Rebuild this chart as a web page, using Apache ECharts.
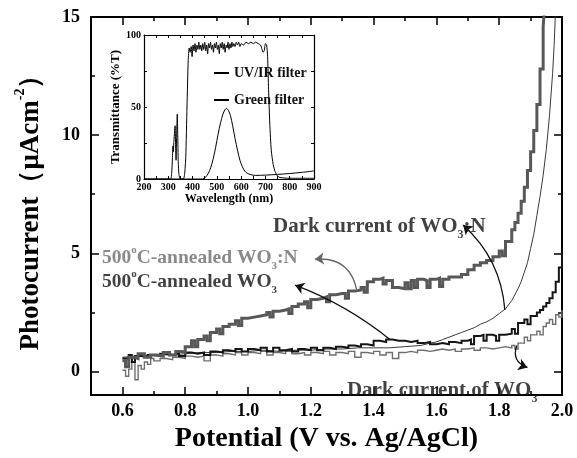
<!DOCTYPE html>
<html><head><meta charset="utf-8">
<script src="https://cdn.jsdelivr.net/npm/echarts@6/dist/echarts.min.js"></script>
<style>html,body{margin:0;padding:0;background:#fff}#c{width:577px;height:458px}</style>
</head><body><div id="c"></div>
<script>
// ---- data (potential V, current uA/cm2) ----
var wo3nPhoto = [[0.60,0.45],[0.61,0.2],[0.62,0.6],[0.64,0.55],[0.65,0.75],[0.67,0.6],[0.69,0.7],[0.71,0.65],[0.73,0.8],[0.75,0.7],[0.77,0.85],[0.79,0.8],[0.80,1.05],[0.82,1.3],[0.83,1.05],[0.84,1.35],[0.86,1.5],[0.87,1.3],[0.88,1.65],[0.90,1.8],[0.91,1.6],[0.92,1.9],[0.94,2.0],[0.96,2.15],[0.97,1.95],[0.98,2.25],[1.00,2.3],[1.02,2.35],[1.04,2.4],[1.06,2.5],[1.07,2.3],[1.08,2.55],[1.10,2.6],[1.12,2.65],[1.13,2.45],[1.14,2.75],[1.16,2.85],[1.18,2.95],[1.19,2.7],[1.20,3.05],[1.22,3.1],[1.24,3.15],[1.25,2.95],[1.26,3.25],[1.28,3.3],[1.30,3.3],[1.31,3.1],[1.32,3.4],[1.34,3.45],[1.36,3.55],[1.37,3.35],[1.38,3.8],[1.40,3.9],[1.42,3.95],[1.43,3.7],[1.44,3.85],[1.46,3.55],[1.48,3.5],[1.50,3.75],[1.51,3.5],[1.52,3.85],[1.53,3.55],[1.54,3.9],[1.56,3.85],[1.57,3.55],[1.58,3.9],[1.60,3.95],[1.61,3.6],[1.62,3.9],[1.64,4.0],[1.66,4.0],[1.68,4.1],[1.70,4.3],[1.72,4.5],[1.74,4.6],[1.76,4.7],[1.78,4.85],[1.80,5.1],[1.81,4.9],[1.82,5.5],[1.84,6.0],[1.85,6.3],[1.86,6.7],[1.87,7.2],[1.88,7.8],[1.89,8.5],[1.90,9.3],[1.91,10.2],[1.92,11.3],[1.93,12.8],[1.94,14.6],[1.945,15.5]];
var wo3Photo = [[0.60,0.55],[0.62,0.7],[0.63,0.4],[0.64,0.65],[0.66,0.6],[0.68,0.7],[0.70,0.65],[0.72,0.75],[0.74,0.7],[0.76,0.75],[0.78,0.65],[0.80,0.8],[0.82,0.75],[0.84,0.8],[0.86,0.7],[0.88,0.85],[0.90,0.8],[0.92,0.9],[0.94,0.85],[0.96,0.95],[0.98,0.85],[1.00,0.95],[1.02,0.9],[1.04,1.0],[1.06,0.85],[1.08,1.0],[1.10,0.9],[1.12,0.95],[1.14,0.85],[1.16,0.95],[1.18,0.9],[1.20,1.0],[1.22,0.9],[1.24,1.0],[1.26,0.95],[1.28,1.05],[1.30,1.0],[1.32,1.1],[1.34,1.05],[1.36,1.15],[1.38,1.1],[1.40,1.3],[1.42,1.25],[1.44,1.35],[1.46,1.3],[1.48,1.3],[1.50,1.25],[1.52,1.3],[1.54,1.2],[1.56,1.25],[1.58,1.15],[1.60,1.2],[1.62,1.15],[1.64,1.25],[1.66,1.2],[1.68,1.3],[1.70,1.35],[1.71,1.15],[1.72,1.5],[1.74,1.55],[1.75,1.3],[1.76,1.55],[1.78,1.5],[1.79,1.3],[1.80,1.55],[1.82,1.6],[1.84,1.8],[1.85,1.6],[1.86,2.05],[1.88,2.2],[1.89,2.0],[1.90,2.35],[1.92,2.5],[1.93,2.6],[1.94,2.75],[1.95,2.9],[1.96,3.1],[1.97,3.35],[1.98,3.8],[1.99,4.4],[2.00,5.0]];
var wo3nDark = [[0.60,0.6],[0.65,0.65],[0.70,0.7],[0.75,0.7],[0.80,0.75],[0.85,0.8],[0.90,0.8],[0.95,0.85],[1.00,0.85],[1.05,0.9],[1.10,0.85],[1.15,0.9],[1.20,0.9],[1.25,0.95],[1.30,0.95],[1.35,1.0],[1.40,1.0],[1.45,1.0],[1.50,1.05],[1.55,1.1],[1.58,1.2],[1.60,1.25],[1.62,1.35],[1.64,1.45],[1.66,1.55],[1.68,1.65],[1.70,1.75],[1.72,1.85],[1.74,2.0],[1.76,2.1],[1.78,2.25],[1.80,2.45],[1.82,2.65],[1.84,3.0],[1.86,3.5],[1.87,3.8],[1.88,4.2],[1.89,4.6],[1.90,5.2],[1.91,5.8],[1.92,6.6],[1.93,7.4],[1.94,8.3],[1.95,9.4],[1.96,10.8],[1.97,12.6],[1.975,13.8],[1.98,15.5]];
var wo3Dark = [[0.60,0.05],[0.61,-0.2],[0.62,0.1],[0.63,0.55],[0.64,-0.35],[0.65,0.25],[0.66,0.1],[0.67,0.4],[0.68,0.3],[0.69,0.55],[0.70,0.45],[0.72,0.55],[0.74,0.5],[0.76,0.6],[0.78,0.55],[0.80,0.65],[0.82,0.6],[0.84,0.65],[0.86,0.45],[0.88,0.7],[0.90,0.65],[0.92,0.75],[0.94,0.7],[0.96,0.8],[0.98,0.7],[1.00,0.8],[1.02,0.75],[1.04,0.85],[1.06,0.7],[1.08,0.8],[1.10,0.75],[1.12,0.85],[1.14,0.75],[1.16,0.8],[1.18,0.7],[1.20,0.8],[1.22,0.75],[1.24,0.85],[1.26,0.7],[1.28,0.8],[1.30,0.75],[1.32,0.85],[1.34,0.6],[1.36,0.8],[1.38,0.75],[1.40,0.85],[1.42,0.7],[1.44,0.8],[1.46,0.55],[1.48,0.8],[1.50,0.85],[1.52,0.8],[1.54,0.9],[1.56,0.85],[1.58,0.9],[1.60,0.95],[1.62,0.9],[1.64,0.95],[1.66,0.85],[1.68,0.95],[1.70,1.0],[1.72,0.9],[1.74,1.0],[1.76,0.95],[1.78,1.0],[1.80,1.05],[1.82,1.0],[1.84,1.1],[1.85,0.95],[1.86,1.2],[1.88,1.45],[1.89,1.3],[1.90,1.55],[1.92,1.7],[1.93,1.55],[1.94,1.9],[1.95,2.05],[1.96,2.2],[1.97,2.0],[1.98,2.4],[1.99,2.3],[2.00,2.6]];

// inset: wavelength nm, transmittance %
var uvirFilter = [[200,0],[300,0],[310,0],[314,4],[317,14],[319,23],[321,19],[323,26],[326,33],[328,37],[330,24],[332,13],[334,28],[337,45],[339,30],[341,12],[344,3],[350,0],[362,0],[367,3],[372,15],[377,50],[382,82],[386,91],[390,88],[394,92],[398,85],[402,93],[406,89],[410,94],[414,88],[418,93],[422,90],[426,95],[430,90],[434,93],[438,89],[442,94],[446,90],[450,95],[454,89],[458,93],[462,87],[466,94],[470,91],[474,95],[478,90],[482,93],[486,88],[490,94],[494,91],[498,95],[502,90],[506,93],[510,87],[514,94],[518,91],[522,95],[526,90],[530,94],[534,88],[538,93],[542,91],[546,95],[550,90],[554,94],[558,91],[562,95],[566,92],[570,94],[575,92],[580,95],[585,93],[590,95],[595,92],[600,94],[610,93],[620,95],[630,94],[640,95],[650,94],[660,95],[670,94],[680,93],[686,90],[690,88],[695,89],[700,94],[705,93],[709,85],[713,62],[718,38],[724,20],[732,10],[740,5],[750,2],[760,1],[800,0.5],[900,0.5]];
var greenFilter = [[200,0],[440,0],[452,1],[465,4],[475,8],[485,14],[495,22],[505,31],[515,39],[525,45],[533,48],[540,49],[548,47.5],[556,44],[565,37],[575,28],[585,20],[595,13],[605,8.5],[615,5.5],[625,4],[640,3],[660,2.5],[700,2.7],[750,3.2],[800,3.8],[850,4.6],[900,5.6]];

var xMajor = [0.6,0.8,1.0,1.2,1.4,1.6,1.8,2.0];
var xMinor = [0.5,0.7,0.9,1.1,1.3,1.5,1.7,1.9];
var yMajor = [0,5,10,15];
var yMinor = [2.5,7.5,12.5];
var inXTicks = [200,250,300,350,400,450,500,550,600,650,700,750,800,850,900];
var inXLabels = [200,300,400,500,600,700,800,900];
var inYTicks = [0,25,50,75,100];
var inYLabels = [0,50,100];

var FF = "Liberation Serif";
var chart = echarts.init(document.getElementById('c'));

function ax(pos, grid, min, max, opts) {
  var o = {type:'value', gridIndex:grid, position:pos, min:min, max:max, splitLine:{show:false},
    axisLine:{show:false, onZero:false, lineStyle:{color:'#000', width:2}},
    axisTick:{show:false}, axisLabel:{show:false}};
  for (var k in opts) o[k] = opts[k];
  return o;
}
function tick(vals, len, w) { return {show:true, inside:true, length:len, customValues:vals, lineStyle:{color:'#000', width:w}}; }
function lbl(size, margin, vals, digits) {
  return {show:true, margin:margin, customValues:vals,
    formatter:function(v){ return '{b|' + (digits ? v.toFixed(digits) : String(v)) + '}'; },
    rich:{b:{fontFamily:FF, fontWeight:'bold', fontSize:size, color:'#000'}}};
}

var xAxes = [
  ax('bottom',0,0.5,2.0,{axisLine:{show:true,onZero:false,lineStyle:{color:'#000',width:2}}, axisTick:tick(xMajor,8,1.5),
     axisLabel:lbl(18,7,xMajor,1),
     name:'Potential (V vs. Ag/AgCl)', nameLocation:'middle', nameGap:28,
     nameTextStyle:{fontFamily:FF, fontWeight:'bold', fontSize:28, color:'#000'}}),
  ax('bottom',0,0.5,2.0,{axisTick:tick(xMinor,4,1.5)}),
  ax('top',0,0.5,2.0,{axisLine:{show:true,onZero:false,lineStyle:{color:'#000',width:2}}, axisTick:tick(xMajor,8,1.5)}),
  ax('top',0,0.5,2.0,{axisTick:tick(xMinor,4,1.5)}),
  ax('bottom',1,200,900,{axisLine:{show:true,onZero:false,lineStyle:{color:'#000',width:1.2}}, axisTick:tick(inXTicks,3,1),
     axisLabel:lbl(10,3,inXLabels,0),
     name:'Wavelength (nm)', nameLocation:'middle', nameGap:13,
     nameTextStyle:{fontFamily:FF, fontWeight:'bold', fontSize:12, color:'#000'}}),
  ax('top',1,200,900,{axisLine:{show:true,onZero:false,lineStyle:{color:'#000',width:1.2}}, axisTick:tick(inXTicks,3,1)})
];
var yAxes = [
  ax('left',0,-1,15,{axisLine:{show:true,onZero:false,lineStyle:{color:'#000',width:2}}, axisTick:tick(yMajor,8,1.5),
     axisLabel:lbl(18,11,yMajor,0),
     name:'{t|Photocurrent（μAcm}{s|-2}{t|）}', nameLocation:'middle', nameGap:46, nameRotate:90,
     nameTextStyle:{rich:{t:{fontFamily:FF, fontWeight:'bold', fontSize:27, color:'#000', lineHeight:32, verticalAlign:'bottom'},
                          s:{fontFamily:FF, fontWeight:'bold', fontSize:14, color:'#000', lineHeight:32, verticalAlign:'top'}}}}),
  ax('left',0,-1,15,{axisTick:tick(yMinor,4,1.5)}),
  ax('right',0,-1,15,{axisLine:{show:true,onZero:false,lineStyle:{color:'#000',width:2}}, axisTick:tick(yMajor,8,1.5)}),
  ax('right',0,-1,15,{axisTick:tick(yMinor,4,1.5)}),
  ax('left',1,0,100,{axisLine:{show:true,onZero:false,lineStyle:{color:'#000',width:1.2}}, axisTick:tick(inYTicks,3,1),
     axisLabel:lbl(10,3,inYLabels,0),
     name:'Transmittance (%T)', nameLocation:'middle', nameGap:20, nameRotate:90,
     nameTextStyle:{fontFamily:FF, fontWeight:'bold', fontSize:13, color:'#000'}}),
  ax('right',1,0,100,{axisLine:{show:true,onZero:false,lineStyle:{color:'#000',width:1.2}}, axisTick:tick(inYTicks,3,1)})
];

function lineS(name, data, color, width, step) {
  return {name:name, type:'line', xAxisIndex:0, yAxisIndex:0, data:data, showSymbol:false, symbol:'none',
    step:step, lineStyle:{color:color, width:width, join:'miter'}, itemStyle:{color:color}, clip:true, silent:true, z:3};
}

var richBase = function(size, color){
  return {n:{fontFamily:FF, fontWeight:'bold', fontSize:size, color:color, lineHeight:size+8, verticalAlign:'middle'},
          sup:{fontFamily:FF, fontWeight:'bold', fontSize:Math.round(size*0.55), color:color, lineHeight:size+8, verticalAlign:'top'},
          sub:{fontFamily:FF, fontWeight:'bold', fontSize:Math.round(size*0.55), color:color, lineHeight:size+8, verticalAlign:'bottom'}};
};
// annotation anchors in data coordinates
var notes = [
  {pos:[0.535,4.8], text:'{n|500}{sup|o}{n|C-annealed WO}{sub|3}{n|:N}', size:19.5, color:'#6b6b6b'},
  {pos:[0.535,3.78], text:'{n|500}{sup|o}{n|C-annealed WO}{sub|3}', size:19.5, color:'#111'},
  {pos:[1.08,6.15], text:'{n|Dark current of WO}{sub|3}{n|:N}', size:21, color:'#111'},
  {pos:[1.315,-0.8], text:'{n|Dark current of WO}{sub|3}', size:21, color:'#111'}
];
var arrows = [
  {coords:[[1.347,3.4],[1.213,4.75]], color:'#666', curve:-0.45},
  {coords:[[1.452,1.35],[1.15,3.65]], color:'#111', curve:-0.08},
  {coords:[[1.818,2.6],[1.685,6.2]], color:'#111', curve:-0.2},
  {coords:[[1.856,1.1],[1.89,0.17]], color:'#111', curve:-0.5}
];

var series = [
  lineS('dark WO3', wo3Dark, '#6e6e6e', 1.4, 'end'),
  lineS('dark WO3:N', wo3nDark, '#3a3a3a', 1, false),
  lineS('WO3', wo3Photo, '#151515', 2, 'end'),
  lineS('WO3:N', wo3nPhoto, '#585858', 3, 'end'),
  {name:'UV/IR filter', type:'line', xAxisIndex:4, yAxisIndex:4, data:uvirFilter, showSymbol:false, symbol:'none',
   smooth:0.2, lineStyle:{color:'#000', width:1}, itemStyle:{color:'#000'}, silent:true},
  {name:'Green filter', type:'line', xAxisIndex:4, yAxisIndex:4, data:greenFilter, showSymbol:false, symbol:'none',
   smooth:0.3, lineStyle:{color:'#000', width:1}, itemStyle:{color:'#000'}, silent:true}
];
arrows.forEach(function(a){
  series.push({type:'lines', coordinateSystem:'cartesian2d', xAxisIndex:0, yAxisIndex:0, silent:true, z:4,
    symbol:['none','arrow'], symbolSize:[0,9],
    lineStyle:{color:a.color, width:1.3, curveness:a.curve, opacity:1},
    data:[{coords:a.coords}]});
});
notes.forEach(function(n){
  series.push({type:'scatter', xAxisIndex:0, yAxisIndex:0, symbolSize:0, silent:true, z:5,
    data:[n.pos], label:{show:true, position:'right', distance:0, formatter:n.text, rich:richBase(n.size, n.color)}});
});

chart.setOption({
  animation:false,
  backgroundColor:'#fff',
  textStyle:{fontFamily:FF, fontWeight:'bold'},
  grid:[{left:91, top:17, width:471, height:379, containLabel:false},
        {left:144, top:35, width:170, height:144, containLabel:false}],
  xAxis:xAxes, yAxis:yAxes,
  legend:{data:['UV/IR filter','Green filter'], orient:'vertical', left:209, top:61, itemWidth:15, itemHeight:2,
    icon:'rect', itemGap:13, itemStyle:{color:'#000'}, textStyle:{fontFamily:FF, fontWeight:'bold', fontSize:14, color:'#111'}, selectedMode:false},
  series:series
});
</script></body></html>
